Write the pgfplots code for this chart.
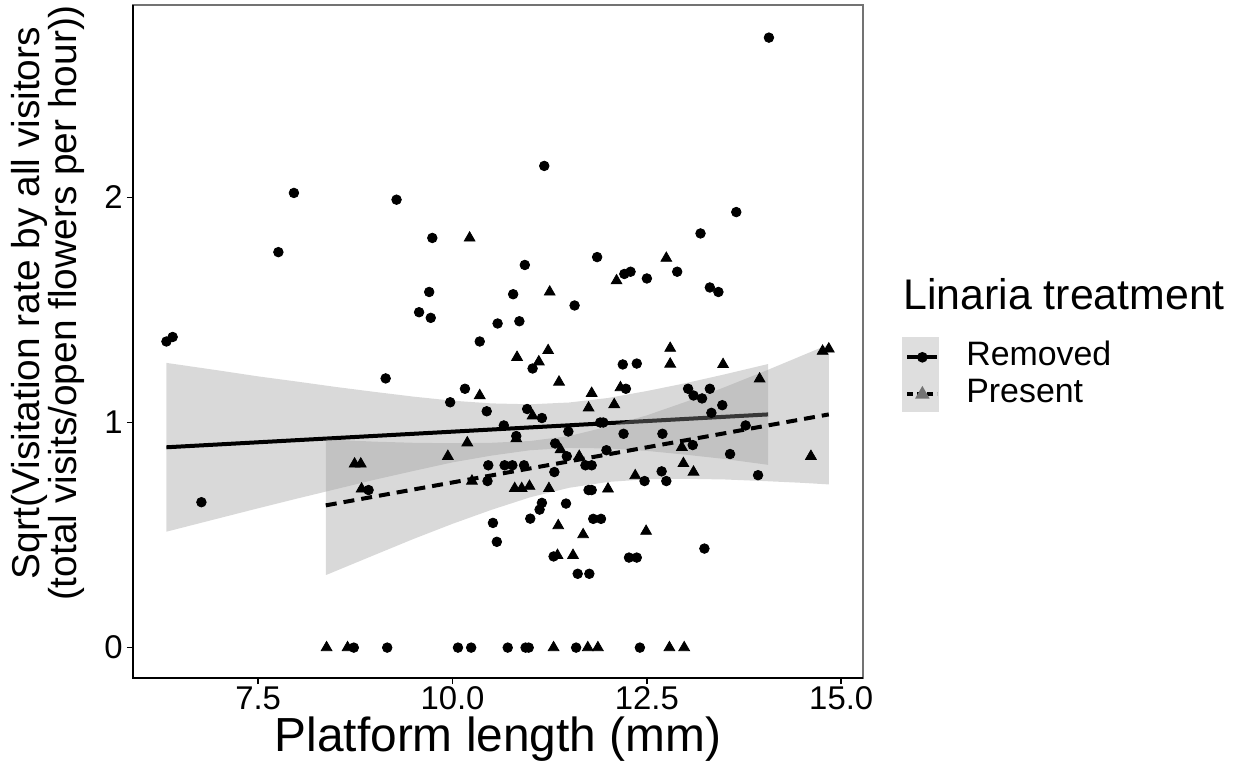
\documentclass[border=0pt]{standalone}
\usepackage{fontspec}
\setmainfont{Liberation Sans}
\usepackage{pgfplots}
\usepackage{pgfplotstable}
\pgfplotsset{compat=1.18}

\definecolor{ribbon}{gray}{0.6}
\definecolor{keybg}{gray}{0.87}

% Linaria removed (circles)
\pgfplotstableread{
x y
14.07 2.71
7.96 2.02
7.76 1.757
6.32 1.36
6.40 1.38
11.18 2.14
9.28 1.99
9.74 1.82
11.86 1.735
10.93 1.70
9.70 1.58
10.78 1.57
11.57 1.52
9.57 1.49
9.72 1.465
10.58 1.44
10.86 1.45
10.35 1.36
13.65 1.935
13.19 1.84
12.21 1.66
12.29 1.67
12.50 1.64
12.89 1.67
13.31 1.60
13.42 1.58
9.14 1.196
11.03 1.24
10.16 1.15
12.19 1.258
12.37 1.262
12.23 1.15
6.77 0.646
8.92 0.70
8.73 0
9.16 0
10.07 0
10.24 0
10.71 0
10.94 0
10.98 0
11.59 0
12.41 0
9.97 1.09
10.44 1.05
10.96 1.06
11.15 1.02
10.66 0.987
10.82 0.94
11.49 0.96
11.90 1.00
11.94 1.00
12.20 0.95
11.32 0.907
11.47 0.85
11.98 0.877
10.46 0.81
10.67 0.81
10.77 0.81
10.92 0.81
11.71 0.81
11.79 0.81
11.31 0.78
10.45 0.74
11.75 0.70
11.79 0.70
11.15 0.643
11.12 0.613
11.46 0.64
11.00 0.573
10.52 0.554
11.81 0.572
11.91 0.572
10.57 0.47
11.30 0.405
11.61 0.328
11.76 0.328
13.03 1.15
13.31 1.15
13.10 1.12
13.21 1.107
13.47 1.077
13.33 1.043
13.77 0.987
12.70 0.95
13.09 0.90
13.57 0.86
12.69 0.783
12.47 0.74
12.75 0.74
13.93 0.766
13.24 0.44
12.27 0.40
12.37 0.40
}\removed

% Linaria present (triangles)
\pgfplotstableread{
x y
10.22 1.82
12.11 1.63
11.25 1.58
12.75 1.73
10.83 1.29
11.23 1.32
11.11 1.27
11.37 1.18
10.35 1.12
11.79 1.13
12.16 1.155
12.80 1.33
12.80 1.26
13.48 1.258
14.76 1.317
14.84 1.327
13.95 1.194
11.03 1.03
11.75 1.065
12.08 1.08
10.82 0.928
10.19 0.91
9.94 0.85
11.39 0.88
11.63 0.85
10.25 0.74
10.80 0.707
10.89 0.707
10.99 0.717
11.24 0.707
12.00 0.705
11.36 0.542
11.68 0.502
11.35 0.41
11.55 0.41
8.74 0.816
8.82 0.816
8.83 0.705
8.38 0
8.65 0
11.30 0
11.74 0
11.87 0
12.79 0
12.98 0
12.95 0.89
12.97 0.818
13.10 0.78
12.35 0.764
14.61 0.85
12.49 0.517
}\present

% confidence band, removed (upper then lower reversed)
\pgfplotstableread{
x y
6.32 1.265
7.00 1.231
7.50 1.205
8.00 1.182
8.50 1.158
9.00 1.136
9.50 1.115
10.00 1.097
10.50 1.085
11.00 1.081
11.50 1.089
12.00 1.109
12.50 1.140
13.00 1.175
13.50 1.214
14.06 1.260
14.06 0.812
13.50 0.838
13.00 0.857
12.50 0.874
12.00 0.885
11.50 0.887
11.00 0.877
10.50 0.853
10.00 0.823
9.50 0.785
9.00 0.746
8.50 0.704
8.00 0.662
7.50 0.619
7.00 0.575
6.32 0.515
}\remband

% confidence band, present
\pgfplotstableread{
x y
8.37 0.925
9.00 0.915
9.50 0.910
10.00 0.908
10.50 0.910
11.00 0.918
11.50 0.940
12.00 0.982
12.50 1.032
13.00 1.092
13.50 1.157
14.00 1.226
14.50 1.298
14.84 1.347
14.84 0.725
14.50 0.732
14.00 0.740
13.50 0.747
13.00 0.750
12.50 0.748
12.00 0.736
11.50 0.710
11.00 0.668
10.50 0.612
10.00 0.550
9.50 0.483
9.00 0.412
8.37 0.322
}\preband

\pgfplotstableread{
x y
6.32 0.890
14.06 1.036
}\remline

\pgfplotstableread{
x y
8.37 0.632
14.84 1.036
}\preline

\begin{document}
\begin{tikzpicture}
\useasboundingbox (-66.5bp,-46.5bp) rectangle (553bp,339bp);
\fill[keybg] (384.5bp,133bp) rectangle (403bp,170.5bp);
\begin{axis}[
  at={(0,0)}, anchor=south west,
  scale only axis, width=365bp, height=336.5bp,
  xmin=5.89, xmax=15.28, ymin=-0.135, ymax=2.855,
  xtick={7.5,10,12.5,15}, ytick={0,1,2},
  xticklabel style={/pgf/number format/fixed, /pgf/number format/fixed zerofill, /pgf/number format/precision=1, inner sep=1bp},
  yticklabel style={inner sep=2bp},
  /pgf/number format/assume math mode=true,
  tick align=outside, xtick pos=bottom, ytick pos=left,
  major tick length=3bp,
  tick style={black, line width=0.8bp},
  axis line style={draw=black!55, line width=0.6bp},
  ticklabel style={font=\fontsize{16.5}{18}\selectfont, text=black},
  clip=false,
  legend style={at={(1.0575,0.449)}, anchor=west, draw=none, fill=none,
    inner sep=0pt, font=\fontsize{17}{20}\selectfont, row sep=3bp, column sep=13.5bp,
    nodes={inner sep=0pt, text height=12bp, text depth=3.5bp}},
  legend cell align=left,
  legend image code/.code={\draw[mark repeat=2, mark phase=2] plot coordinates {(0bp,0bp)(7.5bp,0bp)(15bp,0bp)};},
  legend entries={Removed,Present},
]
\addlegendimage{black, line width=2bp, mark=*, mark size=1.6bp}
\addlegendimage{black, line width=2bp, dash pattern=on 3bp off 2bp, mark=triangle*, mark size=2.2bp, mark options={solid, fill=black!55, draw=black!55}}

\addplot[only marks, mark=*, mark size=2.4bp, black, forget plot] table {\removed};
\addplot[only marks, mark=triangle*, mark size=3.1bp, black, forget plot] table {\present};
\addplot[draw=none, fill=ribbon, fill opacity=0.37, forget plot] table {\remband};
\addplot[black, line width=2bp, forget plot] table {\remline};
\addplot[draw=none, fill=ribbon, fill opacity=0.37, forget plot] table {\preband};
\addplot[black, line width=2bp, dash pattern=on 5.5bp off 3.5bp, forget plot] table {\preline};

\draw[black, line width=1bp] (rel axis cs:0,1) -- (rel axis cs:0,0) -- (rel axis cs:1,0);
\end{axis}
\node[anchor=base, font=\fontsize{24}{28}\selectfont] at (182.5bp,-36.5bp) {Platform length (mm)};
\node[rotate=90, anchor=base, font=\fontsize{19.5}{24}\selectfont] at (-46.5bp,187.5bp) {Sqrt(Visitation rate by all visitors};
\node[rotate=90, anchor=base, font=\fontsize{19.5}{24}\selectfont] at (-28.5bp,187.5bp) {(total visits/open flowers per hour))};
\node[anchor=base west, inner sep=0pt, font=\fontsize{21.5}{25}\selectfont] at (385bp,184bp) {Linaria treatment};
\end{tikzpicture}
\end{document}
